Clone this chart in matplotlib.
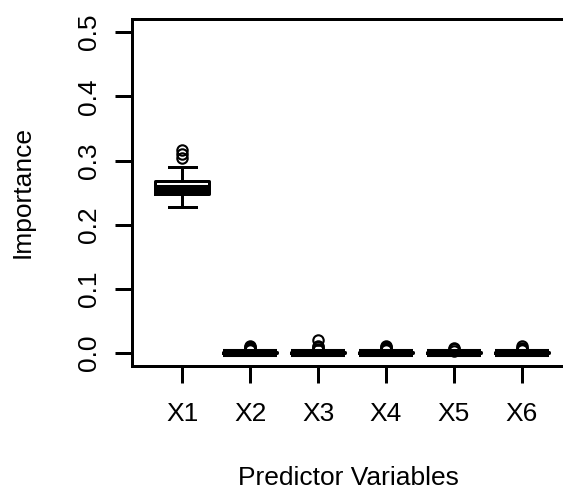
"""
Boxplots of variable importance for six predictors (R style).
"""

from matplotlib import pyplot as plt

# data
categories = ["X1", "X2", "X3", "X4", "X5", "X6"]
q1_values = [0.2478, 0.0000, 0.0000, 0.0000, 0.0000, 0.0000]
median_values = [0.2553, 0.0006, 0.0006, 0.0006, 0.0005, 0.0006]
q3_values = [0.2685, 0.0014, 0.0014, 0.0014, 0.0012, 0.0014]
whisker_low = [0.2275, 0.0000, 0.0000, 0.0000, 0.0000, 0.0000]
whisker_high = [0.2905, 0.0034, 0.0034, 0.0034, 0.0030, 0.0034]
outliers = [
    [0.3160, 0.3100, 0.3040],
    [0.0045, 0.0065, 0.0085, 0.0100, 0.0110],
    [0.0050, 0.0070, 0.0090, 0.0110, 0.0205],
    [0.0045, 0.0065, 0.0085, 0.0100, 0.0115],
    [0.0040, 0.0060, 0.0075],
    [0.0045, 0.0065, 0.0085, 0.0105],
]
y_ticks = [0.0, 0.1, 0.2, 0.3, 0.4, 0.5]

FONT = ["Liberation Sans", "DejaVu Sans"]
plt.rcParams["font.family"] = FONT
plt.rcParams["font.size"] = 19

W, H = 563, 490
fig = plt.figure(figsize=(W / 100, H / 100), dpi=100)
# plot region spans past the right edge, as in the clipped reference
ax = fig.add_axes([132 / W, (H - 366) / H, (572 - 132) / W, (366 - 19.3) / H])

stats = []
for i, name in enumerate(categories):
    stats.append({
        "label": name,
        "q1": q1_values[i],
        "med": median_values[i],
        "q3": q3_values[i],
        "whislo": whisker_low[i],
        "whishi": whisker_high[i],
        "fliers": outliers[i],
    })

lw = 2.16
ax.bxp(
    stats,
    positions=range(1, len(categories) + 1),
    widths=0.8,
    capwidths=0.4,
    boxprops=dict(color="black", linewidth=lw),
    medianprops=dict(color="black", linewidth=5.8, solid_capstyle="butt"),
    whiskerprops=dict(color="black", linewidth=lw),
    capprops=dict(color="black", linewidth=lw),
    flierprops=dict(marker="o", markerfacecolor="none", markeredgecolor="black",
                    markersize=7.5, markeredgewidth=1.5),
)

ax.set_xlim(0.26, 6.74)
ax.set_ylim(-0.02, 0.52)
ax.set_yticks(y_ticks)
ax.set_yticklabels([f"{t:.1f}" for t in y_ticks], rotation=90, va="center")
ax.set_xticks(range(1, len(categories) + 1))
ax.set_xticklabels(categories)

for side in ["left", "top", "bottom", "right"]:
    ax.spines[side].set_linewidth(lw)
ax.tick_params(axis="both", length=12.2, width=lw, color="black")
ax.tick_params(axis="y", pad=10.4)
ax.tick_params(axis="x", pad=14)

fig.text(348 / W, 5 / H, "Predictor Variables", ha="center", va="baseline")
fig.text(23 / W, (H - 191.5) / H, "Importance", rotation=90, ha="center", va="center")

fig.savefig("out.png", dpi=100)
